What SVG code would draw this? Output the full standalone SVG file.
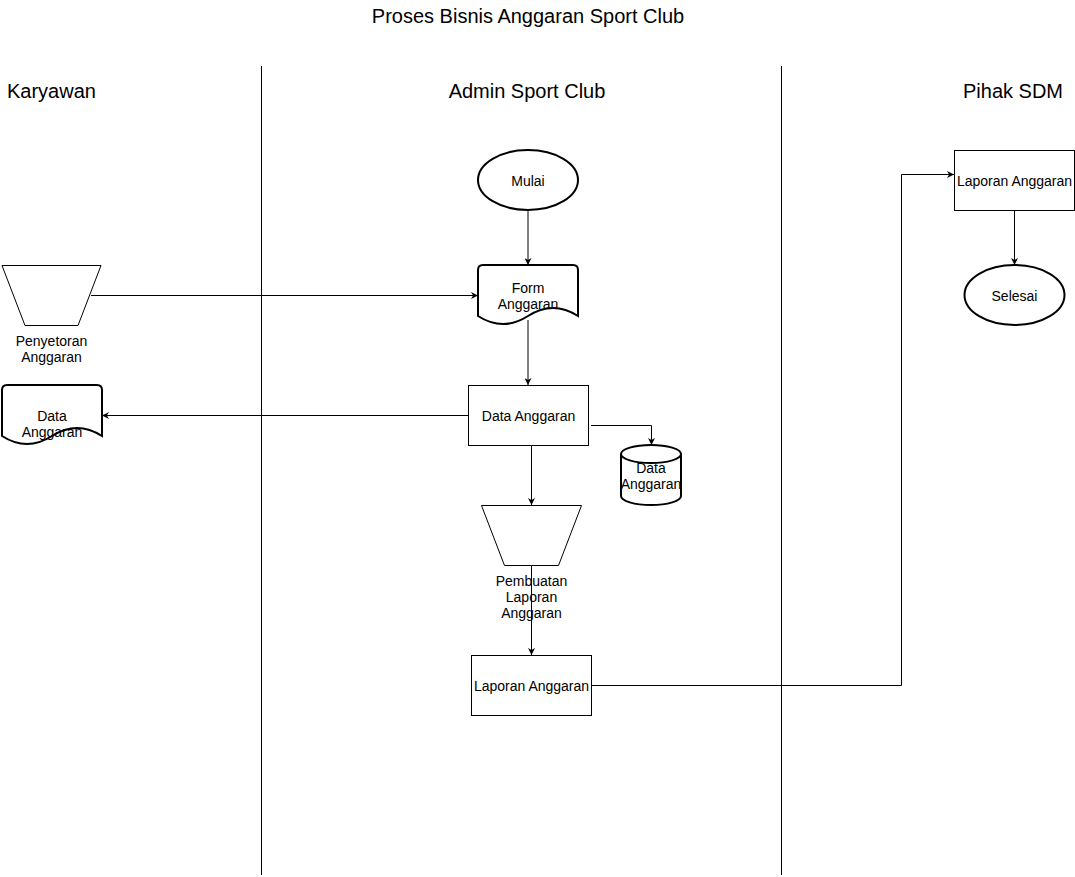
<svg xmlns="http://www.w3.org/2000/svg" width="1075" height="877" viewBox="0 0 1075 877">
<style>
text{font-family:"Liberation Sans",Arial,sans-serif;fill:#000}
.t{font-size:14px;text-anchor:middle}
.h{font-size:20px}
.thin{fill:#fff;stroke:#000;stroke-width:1}
.thick{fill:#fff;stroke:#000;stroke-width:2}
.c{fill:none;stroke:#000;stroke-width:1}
</style>
<defs>
<marker id="a" viewBox="0 0 10 10" refX="10" refY="5" markerWidth="7" markerHeight="7" markerUnits="userSpaceOnUse" orient="auto">
<path d="M0,0 L10,5 L0,10 L3,5 Z" fill="#000"/>
</marker>
</defs>
<rect width="1075" height="877" fill="#fff"/>
<g id="title">
<text class="h" x="528" y="23" text-anchor="middle">Proses Bisnis Anggaran Sport Club</text>
</g>
<g id="lanes">
<line x1="261.5" y1="66" x2="261.5" y2="875" stroke="#000"/>
<line x1="781.5" y1="66" x2="781.5" y2="875" stroke="#000"/>
<text class="h" x="7" y="98">Karyawan</text>
<text class="h" x="527" y="98" text-anchor="middle">Admin Sport Club</text>
<text class="h" x="1063" y="98" text-anchor="end">Pihak SDM</text>
</g>
<g id="connectors">
<path class="c" d="M528,210 V265" marker-end="url(#a)"/>
<path class="c" d="M91,295.5 H478" marker-end="url(#a)"/>
<path class="c" d="M528,320 V385" marker-end="url(#a)"/>
<path class="c" d="M468,415.5 H102" marker-end="url(#a)"/>
<path class="c" d="M591,425.5 H651.5 V445" marker-end="url(#a)"/>
<path class="c" d="M531.5,445 V505" marker-end="url(#a)"/>
<path class="c" d="M531.5,565 V655" marker-end="url(#a)"/>
<path class="c" d="M591,685.5 H901.5 V174.5 H954" marker-end="url(#a)"/>
<path class="c" d="M1014.5,210 V265" marker-end="url(#a)"/>
</g>
<g id="mulai">
<ellipse class="thick" cx="528" cy="180" rx="50" ry="30"/>
<text class="t" x="528" y="186">Mulai</text>
</g>
<g id="form-anggaran">
<path class="thick" d="M478,270 Q478,265 483,265 H573 Q578,265 578,270 V316 Q553,300 528,316 Q503,332 478,316 Z"/>
<text class="t" x="528" y="293">Form</text>
<text class="t" x="528" y="309">Anggaran</text>
</g>
<g id="penyetoran">
<path class="thin" d="M2,265.5 H101 L78,325.5 H25 Z"/>
<text class="t" x="51.5" y="346">Penyetoran</text>
<text class="t" x="51.5" y="362">Anggaran</text>
</g>
<g id="data-anggaran-doc">
<path class="thick" d="M2,390 Q2,385 7,385 H97 Q102,385 102,390 V436 Q77,420 52,436 Q27,452 2,436 Z"/>
<text class="t" x="52" y="421">Data</text>
<text class="t" x="52" y="437">Anggaran</text>
</g>
<g id="data-anggaran">
<rect class="thin" x="468.5" y="385.5" width="120" height="60"/>
<text class="t" x="528.5" y="421">Data Anggaran</text>
</g>
<g id="data-anggaran-db">
<path class="thick" d="M621,454 A30,9 0 0 1 681,454 V496 A30,9 0 0 1 621,496 Z"/>
<path class="thick" fill="none" d="M621,454 A30,9 0 0 0 681,454"/>
<text class="t" x="651" y="473">Data</text>
<text class="t" x="651" y="489">Anggaran</text>
</g>
<g id="pembuatan">
<path class="thin" d="M481.5,505.5 H581.5 L558.5,565.5 H504.5 Z"/>
<text class="t" x="531.5" y="586">Pembuatan</text>
<text class="t" x="531.5" y="602">Laporan</text>
<text class="t" x="531.5" y="618">Anggaran</text>
</g>
<g id="laporan-admin">
<rect class="thin" x="471.5" y="655.5" width="120" height="60"/>
<text class="t" x="531.5" y="691">Laporan Anggaran</text>
</g>
<g id="laporan-sdm">
<rect class="thin" x="954.5" y="150.5" width="120" height="60"/>
<text class="t" x="1014.5" y="186">Laporan Anggaran</text>
</g>
<g id="selesai">
<ellipse class="thick" cx="1014.5" cy="295" rx="50" ry="30"/>
<text class="t" x="1014.5" y="301">Selesai</text>
</g>
</svg>
